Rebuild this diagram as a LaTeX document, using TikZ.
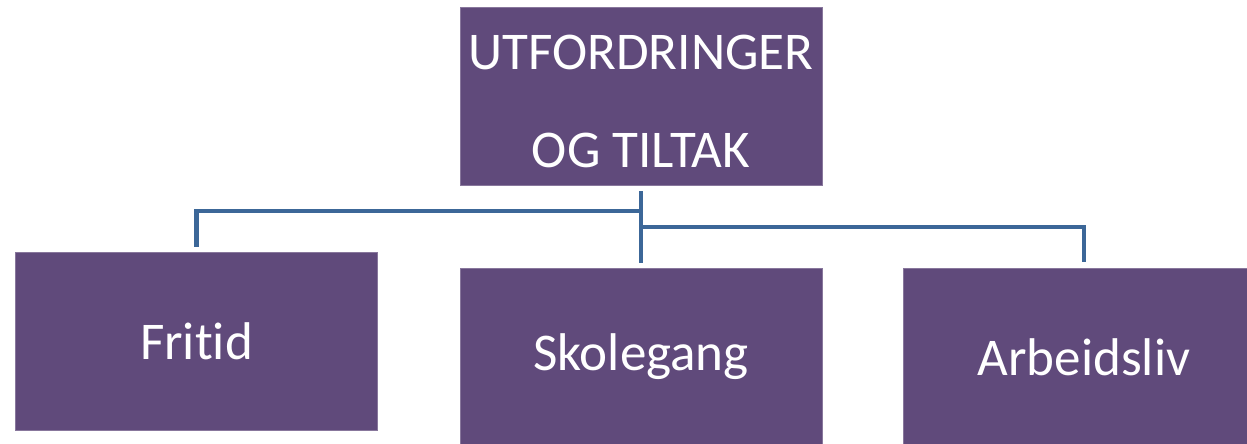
\documentclass[tikz,border=0pt]{standalone}
\usepackage{fontspec}
\setmainfont{Carlito}[Ligatures=NoCommon]
\usepackage{tikz}
\usetikzlibrary{calc}
\definecolor{boxpurple}{RGB}{96,74,123}
\definecolor{linkblue}{RGB}{60,103,152}

\begin{document}
\begin{tikzpicture}[x=0.02cm, y=-0.02cm,
        main/.style = {fill=boxpurple, draw=boxpurple!75!white, line width=0.4pt, text=white,
          minimum width=7.24cm, minimum height=3.56cm, inner sep=0pt,
          font=\fontsize{30.2}{36}\selectfont},
        link/.style = {draw=linkblue, line width=2.4pt}]
        \useasboundingbox (0,0) rectangle (1247,443);
        \clip (0,0) rectangle (1247,443);
        \node[main, align=center, font=\fontsize{30.2}{55.8}\selectfont] at (641,96) (top) {\rule{0pt}{26pt}UTFORDRINGER\\OG TILTAK};
        \node[main] at (196.5,341) (fritid) {Fritid};
        \node[main] at (641,357) (skole) {Skolegang};
        \node[main] at (1084,357) (arbeid) {Arbeidsliv};
        \draw[link, shorten <=0.12cm, shorten >=0.1cm] (top) -- (skole);
        \draw[link, shorten >=0.1cm] (top.south) ++(0,26) -| (fritid);
        \draw[link, shorten >=0.12cm] (top.south) ++(0,42) -| (arbeid);
        \end{tikzpicture}
\end{document}
